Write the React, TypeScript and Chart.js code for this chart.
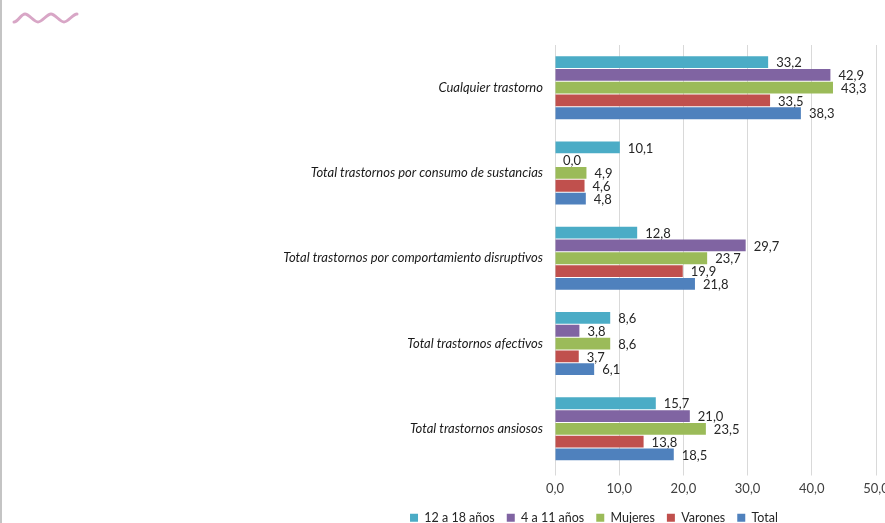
import React, { useEffect, useRef } from "react";
import { Chart, registerables } from "chart.js";

Chart.register(...registerables);

const categories = [
  "Cualquier trastorno",
  "Total trastornos por consumo de sustancias",
  "Total trastornos por comportamiento disruptivos",
  "Total trastornos afectivos",
  "Total trastornos ansiosos",
];
const seriesNames = ["12 a 18 años", "4 a 11 años", "Mujeres", "Varones", "Total"];
const s12a18 = [33.2, 10.1, 12.8, 8.6, 15.7];
const s4a11 = [42.9, 0.0, 29.7, 3.8, 21.0];
const mujeres = [43.3, 4.9, 23.7, 8.6, 23.5];
const varones = [33.5, 4.6, 19.9, 3.7, 13.8];
const total = [38.3, 4.8, 21.8, 6.1, 18.5];
const xMin = 0;
const xMax = 50;
const xStep = 10;

const colors = ["#4BACC6", "#8064A2", "#9BBB59", "#C0504D", "#4F81BD"];

const fmt = (v: number) => v.toFixed(1).replace(".", ",");

const labelPlugin = {
  id: "valueLabels",
  afterDatasetsDraw(chart: any) {
    const ctx = chart.ctx;
    ctx.save();
    ctx.font = "13px Lato";
    ctx.fillStyle = "#262626";
    ctx.textAlign = "left";
    ctx.textBaseline = "middle";
    chart.data.datasets.forEach((ds: any, i: number) => {
      const meta = chart.getDatasetMeta(i);
      meta.data.forEach((bar: any, j: number) => {
        ctx.fillText(fmt(ds.data[j]), bar.x + 8, bar.y + 1);
      });
    });
    ctx.restore();
  },
};

// shift the legend so it is centred where the reference legend sits
const legendShift = {
  id: "legendShift",
  afterLayout(chart: any) {
    const lg = chart.legend;
    if (!lg) return;
    const target = 594;
    const dx = target - (lg.left + lg.right) / 2;
    lg.left += dx;
    lg.right += dx;
  },
};

export default function App() {
  const ref = useRef<HTMLCanvasElement>(null);
  useEffect(() => {
    if (!ref.current) return;
    const all = [s12a18, s4a11, mujeres, varones, total];
    const chart = new Chart(ref.current, {
      type: "bar",
      data: {
        labels: categories,
        datasets: all.map((d, i) => ({
          label: seriesNames[i],
          data: d,
          backgroundColor: colors[i],
          borderWidth: 0,
          categoryPercentage: 0.75,
          barPercentage: 0.92,
        })),
      },
      options: {
        indexAxis: "y",
        animation: false,
        responsive: false,
        layout: { padding: { left: 0, right: 24, top: 45, bottom: 0 } },
        plugins: {
          tooltip: { enabled: false },
          legend: {
            position: "bottom",
            labels: {
              boxWidth: 8,
              boxHeight: 8,
              padding: 12,
              color: "#262626",
              font: { family: "Lato", size: 12.5 },
            },
          },
        },
        scales: {
          x: {
            min: xMin,
            max: xMax,
            ticks: {
              stepSize: xStep,
              padding: 6,
              color: "#404040",
              font: { family: "Lato", size: 13 },
              callback: (v: any) => fmt(Number(v)),
            },
            grid: { color: "#d9d9d9", drawTicks: true, tickLength: 4 },
            border: { display: false },
            afterFit: (s: any) => {
              s.height = 28;
            },
          },
          y: {
            ticks: {
              padding: 12,
              color: "#1a1a1a",
              font: { family: "Lato", size: 13, style: "italic" },
            },
            grid: { display: false, drawTicks: false },
            border: { color: "#d9d9d9" },
            afterFit: (s: any) => {
              s.width = 555;
            },
          },
        },
      },
      plugins: [labelPlugin, legendShift],
    } as any);
    return () => chart.destroy();
  }, []);

  return (
    <div
      style={{
        position: "fixed",
        left: 0,
        top: 0,
        width: 885,
        height: 523,
        overflow: "hidden",
        background: "#ffffff",
      }}
    >
      <canvas
        ref={ref}
        width={900}
        height={534}
        style={{ position: "absolute", left: 0, top: 0, width: 900, height: 534 }}
      />
      <div
        style={{
          position: "absolute",
          left: 0,
          top: 0,
          width: 2,
          height: 523,
          background: "#c4c4c4",
        }}
      />
      <svg width={90} height={36} style={{ position: "absolute", left: 0, top: 0 }}>
        <path
          d="M14 22 C18 22 21 14 25 14 S34 22 38 22 S47 14 51 14 S60 22 64 22 S73 14 77 14"
          fill="none"
          stroke="#d8a6c6"
          strokeWidth={3}
          strokeLinecap="round"
        />
      </svg>
    </div>
  );
}
